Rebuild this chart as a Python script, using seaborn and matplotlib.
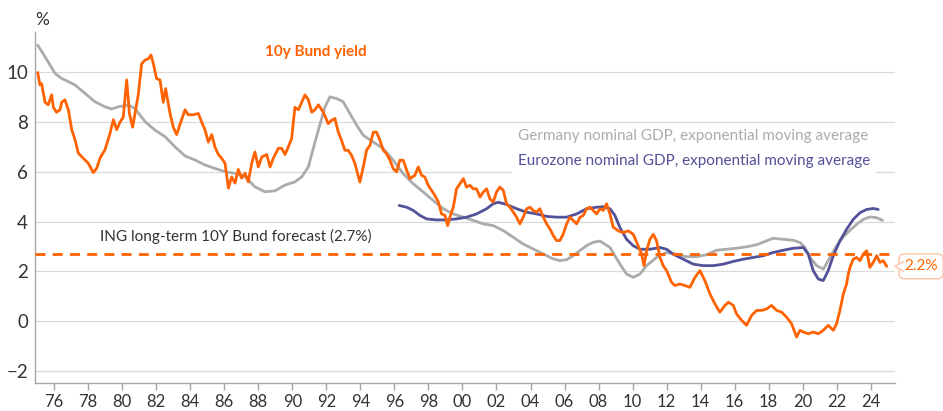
import seaborn as sns
import matplotlib.pyplot as plt
import pandas as pd
from matplotlib.patches import Polygon

# 10y Bund yield (decimal years)
bund_year = [1975.03, 1975.16, 1975.26, 1975.46, 1975.65, 1975.85, 1975.95, 1976.14, 1976.34, 1976.44,
             1976.63, 1976.83, 1977.03, 1977.22, 1977.42, 1977.71, 1978.0, 1978.3, 1978.5, 1978.69,
             1978.99, 1979.28, 1979.48, 1979.67, 1979.87, 1980.06, 1980.26, 1980.42, 1980.61, 1980.75,
             1980.94, 1981.14, 1981.34, 1981.53, 1981.69, 1981.83, 1982.02, 1982.22, 1982.41, 1982.55,
             1982.81, 1983.0, 1983.2, 1983.39, 1983.69, 1983.88, 1984.18, 1984.47, 1984.67, 1984.86,
             1985.06, 1985.26, 1985.45, 1985.65, 1985.84, 1986.04, 1986.24, 1986.43, 1986.63, 1986.82,
             1987.02, 1987.22, 1987.41, 1987.61, 1987.8, 1988.0, 1988.2, 1988.49, 1988.69, 1988.88,
             1989.18, 1989.37, 1989.57, 1989.76, 1989.96, 1990.15, 1990.35, 1990.55, 1990.74, 1990.94,
             1991.14, 1991.33, 1991.53, 1991.82, 1992.11, 1992.31, 1992.5, 1992.7, 1992.89, 1993.09,
             1993.28, 1993.48, 1993.68, 1993.97, 1994.17, 1994.36, 1994.56, 1994.76, 1994.95, 1995.15,
             1995.34, 1995.54, 1995.74, 1995.93, 1996.13, 1996.32, 1996.52, 1996.72, 1996.91, 1997.2,
             1997.4, 1997.6, 1997.79, 1997.99, 1998.18, 1998.38, 1998.58, 1998.77, 1998.97, 1999.13,
             1999.26, 1999.46, 1999.65, 1999.85, 2000.05, 2000.24, 2000.44, 2000.63, 2000.83, 2001.03,
             2001.22, 2001.42, 2001.61, 2001.81, 2002.0, 2002.2, 2002.4, 2002.59, 2002.79, 2002.99,
             2003.18, 2003.38, 2003.57, 2003.77, 2003.97, 2004.16, 2004.36, 2004.55, 2004.75, 2004.95,
             2005.14, 2005.34, 2005.53, 2005.73, 2005.93, 2006.12, 2006.32, 2006.51, 2006.71, 2006.91,
             2007.1, 2007.3, 2007.49, 2007.69, 2007.89, 2008.08, 2008.28, 2008.47, 2008.67, 2008.86,
             2009.16, 2009.45, 2009.75, 2010.04, 2010.33, 2010.53, 2010.67, 2010.82, 2011.02, 2011.22,
             2011.41, 2011.61, 2011.8, 2012.0, 2012.29, 2012.49, 2012.78, 2013.08, 2013.37, 2013.67,
             2013.96, 2014.25, 2014.55, 2014.84, 2015.13, 2015.43, 2015.63, 2015.92, 2016.11, 2016.41,
             2016.7, 2017.0, 2017.29, 2017.58, 2017.88, 2018.17, 2018.47, 2018.76, 2019.05, 2019.35,
             2019.64, 2019.84, 2020.04, 2020.33, 2020.62, 2020.92, 2021.21, 2021.5, 2021.8, 2021.99,
             2022.19, 2022.39, 2022.58, 2022.68, 2022.78, 2022.97, 2023.17, 2023.37, 2023.56, 2023.76,
             2023.95, 2024.15, 2024.35, 2024.54, 2024.74, 2024.94]
bund_val = [10.0, 9.5, 9.55, 8.8, 8.7, 9.1, 8.6, 8.4, 8.5, 8.8,
            8.9, 8.5, 7.7, 7.3, 6.75, 6.55, 6.35, 5.97, 6.15, 6.55,
            6.9, 7.55, 8.1, 7.7, 8.0, 8.2, 9.7, 8.35, 7.8, 8.35,
            9.1, 10.35, 10.5, 10.55, 10.7, 10.35, 9.75, 9.7, 8.8, 9.35,
            8.35, 7.8, 7.5, 7.9, 8.5, 8.3, 8.3, 8.35, 8.0, 7.7,
            7.2, 7.5, 7.0, 6.7, 6.55, 6.35, 5.35, 5.8, 5.55, 6.1,
            5.75, 5.95, 5.6, 6.35, 6.8, 6.2, 6.6, 6.7, 6.2, 6.55,
            6.95, 6.95, 6.7, 7.0, 7.35, 8.6, 8.5, 8.8, 9.1, 8.9,
            8.4, 8.5, 8.7, 8.4, 7.94, 8.08, 8.15, 7.6, 7.27, 6.87,
            6.87, 6.67, 6.33, 5.59, 6.2, 6.87, 7.07, 7.6, 7.6, 7.27,
            6.87, 6.73, 6.47, 6.13, 6.0, 6.47, 6.47, 6.07, 5.73, 5.86,
            6.2, 5.86, 5.79, 5.46, 5.26, 5.05, 4.79, 4.31, 4.25, 3.84,
            4.18, 4.58, 5.32, 5.52, 5.73, 5.39, 5.46, 5.32, 5.32, 4.99,
            5.19, 5.32, 4.92, 4.79, 5.19, 5.39, 5.26, 4.72, 4.58, 4.38,
            4.18, 3.91, 4.18, 4.52, 4.58, 4.45, 4.38, 4.52, 4.18, 3.91,
            3.71, 3.44, 3.24, 3.24, 3.51, 3.91, 4.18, 4.05, 3.91, 4.18,
            4.25, 4.52, 4.58, 4.45, 4.31, 4.52, 4.45, 4.72, 4.31, 3.78,
            3.63, 3.56, 3.63, 3.49, 3.03, 2.69, 2.23, 2.83, 3.29, 3.49,
            3.23, 2.56, 2.23, 2.03, 1.56, 1.43, 1.49, 1.43, 1.36, 1.76,
            2.03, 1.63, 1.09, 0.69, 0.36, 0.63, 0.76, 0.63, 0.29, 0.03,
            -0.17, 0.23, 0.43, 0.43, 0.49, 0.63, 0.43, 0.36, 0.16, -0.11,
            -0.64, -0.37, -0.44, -0.51, -0.44, -0.51, -0.37, -0.17, -0.37, -0.11,
            0.43, 1.09, 1.49, 1.89, 2.16, 2.49, 2.56, 2.43, 2.69, 2.83,
            2.16, 2.36, 2.63, 2.36, 2.43, 2.2]

# Germany nominal GDP, exponential moving average
de_year = [1975.03, 1975.46, 1976.05, 1976.44, 1977.22, 1977.81, 1978.4, 1978.99, 1979.38, 1979.77,
           1980.36, 1980.75, 1981.34, 1981.93, 1982.51, 1983.1, 1983.69, 1984.28, 1984.86, 1985.45,
           1986.04, 1986.63, 1987.22, 1987.8, 1988.39, 1988.98, 1989.57, 1990.15, 1990.55, 1990.94,
           1991.33, 1991.62, 1991.91, 1992.21, 1992.6, 1992.99, 1993.38, 1993.78, 1994.17, 1994.76,
           1995.34, 1995.93, 1996.52, 1997.11, 1997.7, 1998.28, 1998.87, 1999.46, 2000.05, 2000.63,
           2001.22, 2001.81, 2002.4, 2002.99, 2003.57, 2004.16, 2004.75, 2005.34, 2005.73, 2006.12,
           2006.51, 2006.91, 2007.3, 2007.69, 2008.08, 2008.67, 2009.26, 2009.65, 2010.04, 2010.43,
           2010.82, 2011.41, 2012.0, 2012.59, 2013.17, 2013.76, 2014.35, 2014.94, 2015.53, 2016.11,
           2016.7, 2017.29, 2017.88, 2018.27, 2018.86, 2019.45, 2019.84, 2020.13, 2020.43, 2020.82,
           2021.21, 2021.6, 2021.99, 2022.39, 2022.78, 2023.17, 2023.56, 2023.95, 2024.35, 2024.7]
de_val = [11.1, 10.63, 9.96, 9.76, 9.5, 9.16, 8.82, 8.62, 8.53, 8.62,
          8.69, 8.55, 8.02, 7.68, 7.42, 7.01, 6.64, 6.48, 6.28, 6.14,
          6.01, 5.94, 5.81, 5.4, 5.2, 5.24, 5.47, 5.6, 5.8, 6.2,
          7.2, 7.9, 8.6, 9.02, 8.95, 8.82, 8.35, 7.88, 7.47, 7.2,
          6.94, 6.47, 5.93, 5.52, 5.19, 4.85, 4.52, 4.31, 4.18, 4.05,
          3.91, 3.84, 3.64, 3.37, 3.1, 2.9, 2.7, 2.5, 2.43, 2.47,
          2.63, 2.84, 3.04, 3.17, 3.22, 2.96, 2.29, 1.89, 1.76, 1.89,
          2.23, 2.56, 2.76, 2.69, 2.59, 2.59, 2.67, 2.85, 2.89, 2.93,
          2.99, 3.07, 3.23, 3.33, 3.29, 3.25, 3.16, 2.96, 2.56, 2.23,
          2.09, 2.56, 3.03, 3.39, 3.65, 3.89, 4.09, 4.19, 4.16, 4.05]

# Eurozone nominal GDP, exponential moving average
ez_year = [1996.28, 1996.72, 1997.11, 1997.5, 1997.89, 1998.48, 1999.07, 1999.65, 2000.24, 2000.83,
           2001.42, 2001.81, 2002.1, 2002.59, 2003.18, 2003.77, 2004.36, 2004.95, 2005.53, 2006.12,
           2006.71, 2007.3, 2007.89, 2008.28, 2008.67, 2008.96, 2009.26, 2009.65, 2010.04, 2010.43,
           2011.02, 2011.61, 2012.0, 2012.39, 2012.98, 2013.57, 2014.16, 2014.74, 2015.33, 2015.92,
           2016.51, 2017.09, 2017.68, 2018.27, 2018.86, 2019.45, 2020.04, 2020.33, 2020.62, 2020.92,
           2021.21, 2021.5, 2021.8, 2022.19, 2022.58, 2022.97, 2023.37, 2023.76, 2024.15, 2024.44]
ez_val = [4.65, 4.58, 4.45, 4.25, 4.11, 4.07, 4.07, 4.11, 4.18, 4.31,
          4.52, 4.72, 4.78, 4.69, 4.52, 4.38, 4.31, 4.21, 4.18, 4.18,
          4.31, 4.52, 4.58, 4.6, 4.52, 4.25, 3.76, 3.29, 3.03, 2.89,
          2.89, 2.96, 2.89, 2.69, 2.49, 2.29, 2.23, 2.23, 2.29, 2.4,
          2.49, 2.56, 2.63, 2.76, 2.85, 2.93, 2.96, 2.69, 2.03, 1.69,
          1.63, 2.03, 2.63, 3.23, 3.69, 4.09, 4.36, 4.49, 4.53, 4.49]

forecast = 2.7
latest = 2.2
x_ticks = list(range(1976, 2025, 2))
y_ticks = [-2, 0, 2, 4, 6, 8, 10]

ORANGE = "#FF6200"
GREY = "#ABABAB"
BLUE = "#525199"
TEXT = "#333333"

sns.set_theme(style="white")
plt.rcParams["font.family"] = ["Lato", "DejaVu Sans"]

bund = pd.DataFrame({"year": bund_year, "value": bund_val})
de = pd.DataFrame({"year": de_year, "value": de_val})
ez = pd.DataFrame({"year": ez_year, "value": ez_val})

fig = plt.figure(figsize=(9.43, 4.11), dpi=100)
ax = fig.add_axes([0.0371, 0.0681, 0.9117, 0.8548])

for y in y_ticks:
    ax.axhline(y, color="#DADADA", lw=0.9, zorder=0)

sns.lineplot(data=de, x="year", y="value", color=GREY, lw=2, ax=ax, zorder=2)
sns.lineplot(data=ez, x="year", y="value", color=BLUE, lw=2, ax=ax, zorder=3)
sns.lineplot(data=bund, x="year", y="value", color=ORANGE, lw=2, ax=ax, zorder=4)
ax.axhline(forecast, color=ORANGE, lw=2, dashes=(3.6, 2.6), zorder=5)

ax.set_xlim(1974.87, 2025.41)
ax.set_ylim(-2.49, 11.64)
ax.set_xticks(x_ticks)
ax.set_xticklabels([f"{y % 100:02d}" for y in x_ticks])
ax.set_yticks(y_ticks)
ax.set_xlabel("")
ax.set_ylabel("")

for s in ["top", "right"]:
    ax.spines[s].set_visible(False)
for s in ["left", "bottom"]:
    ax.spines[s].set_color("#A6A6A6")
    ax.spines[s].set_linewidth(1)

ax.tick_params(axis="x", which="major", length=5, width=1, color="#A6A6A6",
               labelsize=12, labelcolor=TEXT, pad=3, bottom=True)
ax.tick_params(axis="y", length=0, labelsize=13.5, labelcolor=TEXT, pad=5)

# labels inside the plot
ax.text(1988.39, 10.82, "10y Bund yield", color=ORANGE, fontsize=11, fontweight="bold",
        ha="left", va="center")
ax.text(2003.26, 7.45, "Germany nominal GDP, exponential moving average", color=GREY,
        fontsize=11, ha="left", va="center", zorder=6,
        bbox=dict(fc="white", ec="none", pad=3))
ax.text(2003.26, 6.42, "Eurozone nominal GDP, exponential moving average", color=BLUE,
        fontsize=11, ha="left", va="center", zorder=6,
        bbox=dict(fc="white", ec="none", pad=4))
ax.text(1978.69, 3.39, "ING long-term 10Y Bund forecast (2.7%)", color=TEXT,
        fontsize=11, ha="left", va="center")

# latest value callout
tr = ax.get_yaxis_transform()
ax.text(1.0306, latest, f"{latest}%", transform=tr, color=ORANGE, fontsize=11,
        ha="center", va="center", clip_on=False, zorder=7,
        bbox=dict(boxstyle="round,pad=0.35", fc="white", ec="#FFC4A3", lw=1))
notch = Polygon([[1.0105, latest + 0.2], [1.0, latest], [1.0105, latest - 0.2]],
                closed=False, transform=tr, fc="white", ec="#FFC4A3", lw=1,
                clip_on=False, zorder=8)
ax.add_patch(notch)

fig.text(42 / 943, 1 - 20 / 411, "%", color=TEXT, fontsize=12.5, ha="center", va="center")

fig.savefig("out.png", dpi=100)
